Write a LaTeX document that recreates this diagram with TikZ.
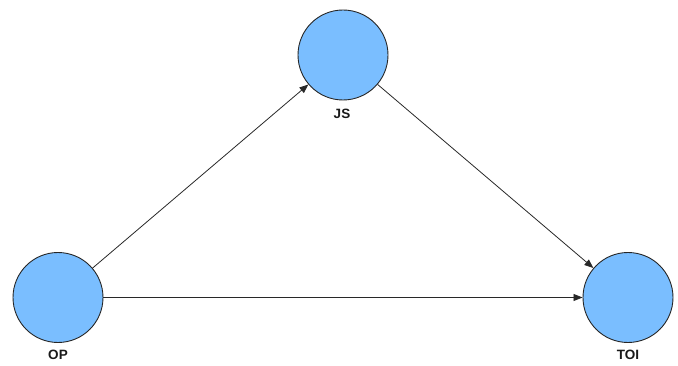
\documentclass[tikz,border=0pt]{standalone}
\usepackage{fontspec}
\setmainfont{Liberation Sans}
\usetikzlibrary{arrows.meta}
\definecolor{nodefill}{RGB}{122,190,255}
\definecolor{edgecol}{RGB}{40,40,40}
\tikzset{
  var/.style={circle, draw=black!85, line width=0.9pt, fill=nodefill, minimum size=90pt, inner sep=0pt},
  lab/.style={font=\fontsize{13.5}{15}\selectfont\bfseries, text=black!90, inner sep=0pt},
  link/.style={draw=edgecol, line width=0.8pt, -{Triangle[length=9pt,width=7pt]}}
}
\begin{document}
\begin{tikzpicture}[x=1pt,y=-1pt]
\useasboundingbox (0,0) rectangle (678,366);
\node[var] (JS) at (343,55) {};
\node[var] (OP) at (58,297.5) {};
\node[var] (TOI) at (628,297.5) {};
\node[lab] (JSl) at (342,114) {JS};
\node[lab] (OPl) at (58,355) {OP};
\node[lab] (TOIl) at (628,355) {TOI};
\draw[link] (OP) -- (JS);
\draw[link] (JS) -- (TOI);
\draw[link] (OP) -- (TOI);
\end{tikzpicture}
\end{document}
